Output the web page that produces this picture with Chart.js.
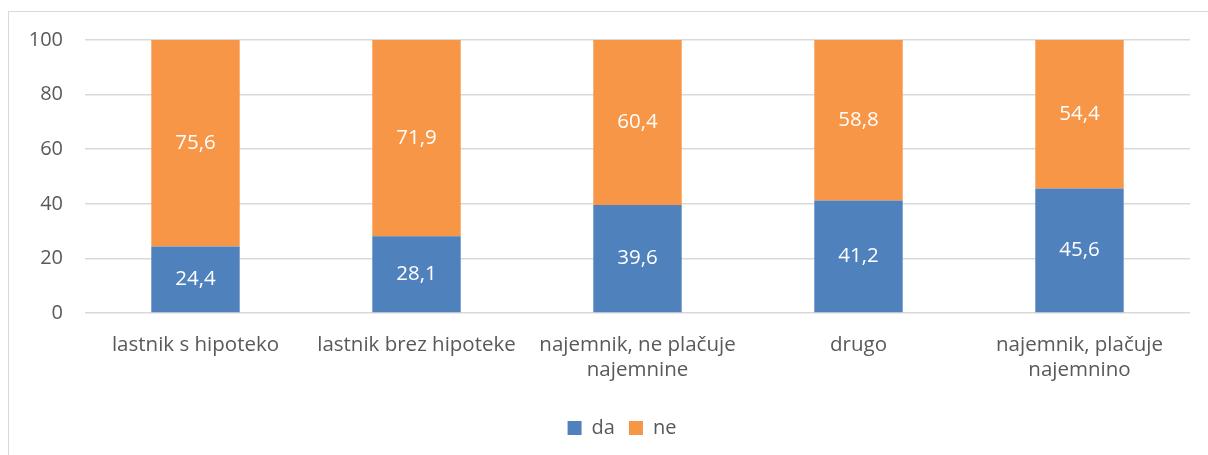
<!DOCTYPE html>
<html>
<head>
<meta charset="utf-8">
<script src="https://cdn.jsdelivr.net/npm/chart.js@4"></script>
<style>
  html, body { margin: 0; padding: 0; background: #fff; overflow: hidden; }
  #frame { position: absolute; left: 8px; top: 11px; width: 1220px; height: 470px; border: 1px solid #d9d9d9; }
  #wrap { position: absolute; left: 0; top: 0; width: 1208px; height: 455px; }
</style>
</head>
<body>
<div id="frame"></div>
<div id="wrap"><canvas id="chart"></canvas></div>
<script>
const categories = [
  "lastnik s hipoteko",
  "lastnik brez hipoteke",
  ["najemnik, ne plačuje", "najemnine"],
  "drugo",
  ["najemnik, plačuje", "najemnino"]
];
const daValues = [24.4, 28.1, 39.6, 41.2, 45.6];
const neValues = [75.6, 71.9, 60.4, 58.8, 54.4];
const yTicks = [0, 20, 40, 60, 80, 100];

const FONT = "'Open Sans', 'Noto Sans', sans-serif";

// draws the value inside each bar segment, decimal comma like the original
const barLabels = {
  id: "barLabels",
  afterDatasetsDraw(chart) {
    const ctx = chart.ctx;
    ctx.save();
    ctx.fillStyle = "#ffffff";
    ctx.font = "20.5px " + FONT;
    ctx.textAlign = "center";
    ctx.textBaseline = "middle";
    chart.data.datasets.forEach((ds, i) => {
      chart.getDatasetMeta(i).data.forEach((bar, j) => {
        const mid = (bar.y + bar.base) / 2;
        ctx.fillText(ds.data[j].toFixed(1).replace(".", ","), bar.x, mid);
      });
    });
    ctx.restore();
  }
};

// the legend in the original is centred on the outer frame, a bit right of the canvas middle
const legendShift = {
  id: "legendShift",
  afterLayout(chart) {
    chart.legend.left += 27;
    chart.legend.right += 27;
  }
};

new Chart(document.getElementById("chart"), {
  type: "bar",
  data: {
    labels: categories,
    datasets: [
      { label: "da", data: daValues, backgroundColor: "#4f81bd" },
      { label: "ne", data: neValues, backgroundColor: "#f79646" }
    ]
  },
  options: {
    responsive: true,
    maintainAspectRatio: false,
    animation: false,
    layout: { padding: { top: 40, right: 18, left: 0, bottom: 7 } },
    datasets: { bar: { categoryPercentage: 0.8, barPercentage: 0.5 } },
    scales: {
      x: {
        stacked: true,
        grid: { display: false },
        border: { display: false },
        ticks: { color: "#595959", font: { family: FONT, size: 20.5 }, padding: 12, maxRotation: 0 },
        afterFit(scale) { scale.height = 91; }
      },
      y: {
        stacked: true,
        min: 0,
        max: 100,
        afterBuildTicks(scale) { scale.ticks = yTicks.map(v => ({ value: v })); },
        grid: { color: "#d9d9d9", lineWidth: 1.5, drawTicks: false },
        border: { display: false },
        ticks: { color: "#595959", font: { family: FONT, size: 20 }, padding: 22 },
        afterFit(scale) { scale.width = 85; }
      }
    },
    plugins: {
      legend: {
        position: "bottom",
        labels: {
          color: "#595959",
          font: { family: FONT, size: 20 },
          boxWidth: 14,
          boxHeight: 14,
          padding: 14
        }
      },
      tooltip: { enabled: false }
    }
  },
  plugins: [barLabels, legendShift]
});
</script>
</body>
</html>
